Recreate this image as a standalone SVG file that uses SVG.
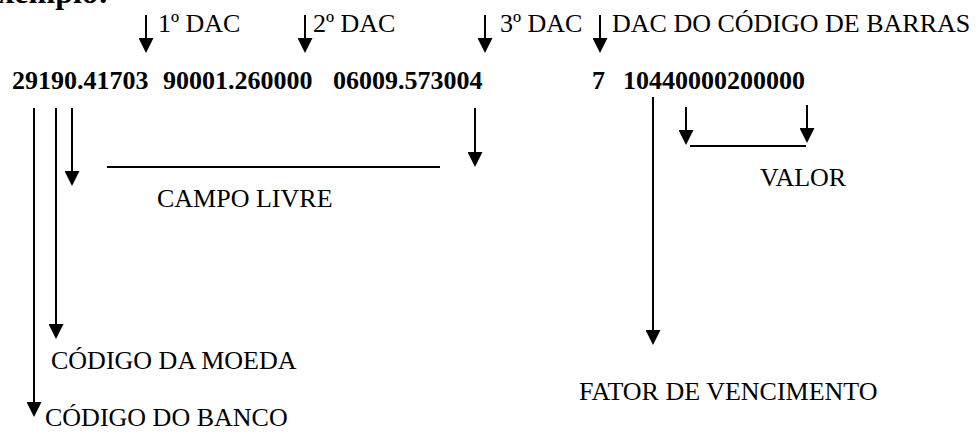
<svg xmlns="http://www.w3.org/2000/svg" width="979" height="432" viewBox="0 0 979 432">
<style>
text{font-family:"Liberation Serif","Times New Roman",serif;font-size:26px;fill:#000}
.b{font-weight:bold}
.ln{stroke:#000;stroke-width:2;fill:none}
.ar{stroke:#000;stroke-width:2;fill:none;marker-end:url(#ah)}
</style>
<defs>
<marker id="ah" viewBox="0 0 15 15" refX="1" refY="7.5" markerWidth="15" markerHeight="15" orient="auto" markerUnits="userSpaceOnUse">
<path d="M0,0 L15,7.5 L0,15 z" fill="#000"/>
</marker>
</defs>
<rect width="979" height="432" fill="#fff"/>
<g id="title"><text class="b" x="-23" y="3" style="font-size:32px">Exemplo:</text></g>
<g id="dac1"><text x="158" y="32">1º DAC</text></g>
<g id="dac2"><text x="313" y="32">2º DAC</text></g>
<g id="dac3"><text x="500" y="32">3º DAC</text></g>
<g id="dacbarras"><text x="612" y="32">DAC DO CÓDIGO DE BARRAS</text></g>
<g id="numero">
<text class="b" x="12" y="89">29190.41703</text>
<text class="b" x="163" y="89">90001.260000</text>
<text class="b" x="333" y="89">06009.573004</text>
<text class="b" x="592" y="89">7</text>
<text class="b" x="623" y="89">10440000200000</text>
</g>
<g id="campolivre"><text x="157" y="207">CAMPO LIVRE</text></g>
<g id="valor"><text x="760" y="186">VALOR</text></g>
<g id="moeda"><text x="51" y="369">CÓDIGO DA MOEDA</text></g>
<g id="fator"><text x="579" y="400">FATOR DE VENCIMENTO</text></g>
<g id="banco"><text x="45" y="426">CÓDIGO DO BANCO</text></g>
<g id="connectors">
<line class="ar" x1="146" y1="15" x2="146" y2="39"/>
<line class="ar" x1="305" y1="15" x2="305" y2="39"/>
<line class="ar" x1="485" y1="15" x2="485" y2="39"/>
<line class="ar" x1="600" y1="15" x2="600" y2="39"/>
<line class="ar" x1="34" y1="108" x2="34" y2="403"/>
<line class="ar" x1="56" y1="108" x2="56" y2="325"/>
<line class="ar" x1="72" y1="108" x2="72" y2="172"/>
<line class="ln" x1="107" y1="167" x2="440" y2="167"/>
<line class="ar" x1="475" y1="108" x2="475" y2="153"/>
<line class="ar" x1="653" y1="97" x2="653" y2="331"/>
<line class="ar" x1="686" y1="107" x2="686" y2="131"/>
<line class="ar" x1="807" y1="105" x2="807" y2="129"/>
<line class="ln" x1="690" y1="146" x2="806" y2="146"/>
</g>
</svg>
